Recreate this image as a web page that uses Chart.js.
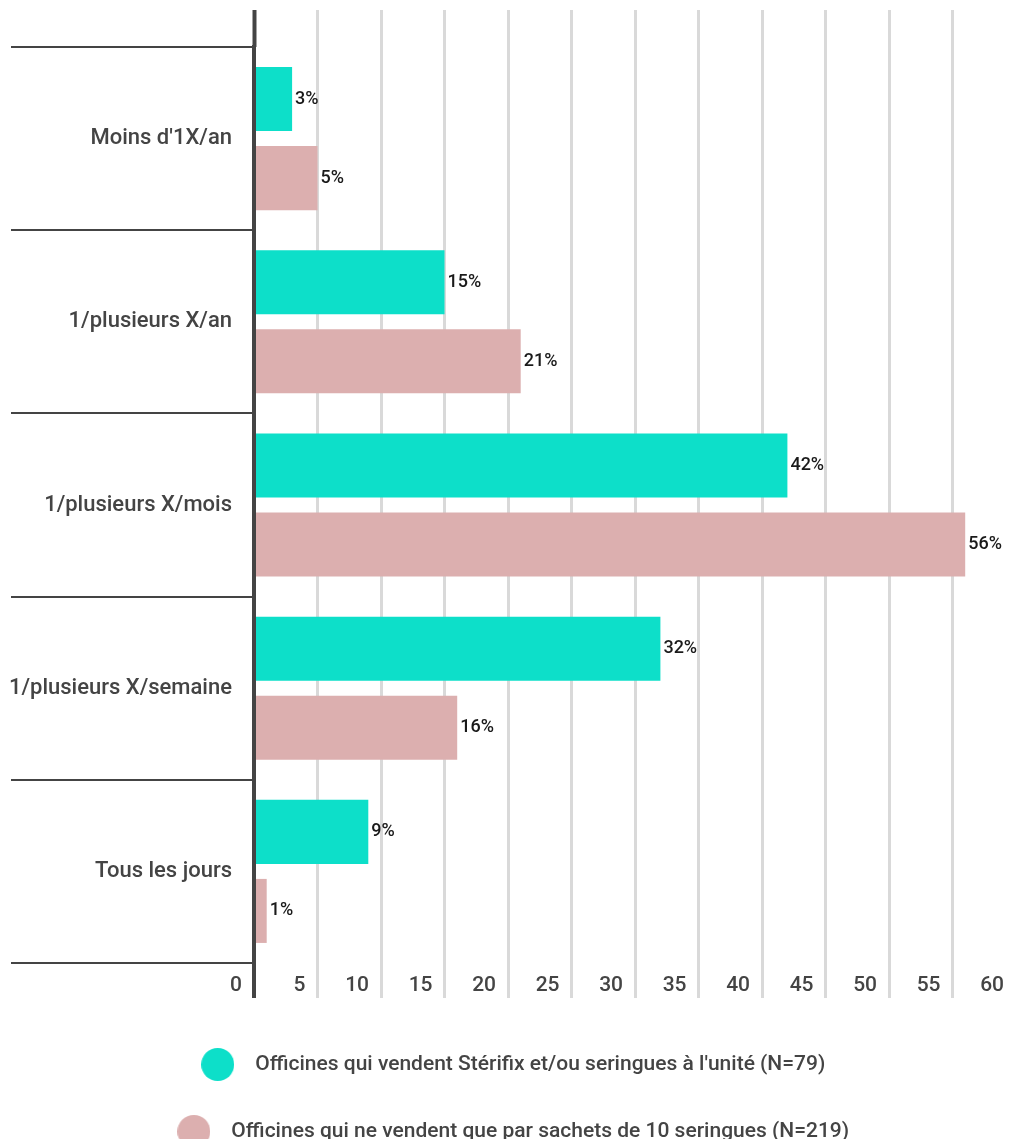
<!DOCTYPE html>
<html lang="fr">
<head>
<meta charset="utf-8">
<title>Fréquence de vente</title>
<script src="https://cdn.jsdelivr.net/npm/chart.js@4/dist/chart.umd.min.js"></script>
<style>
  html, body { margin: 0; padding: 0; background: #fff; overflow: hidden; }
  #wrap { width: 1020px; height: 1152px; }
</style>
</head>
<body>
<div id="wrap"><canvas id="freqChart" width="1020" height="1152"></canvas></div>
<script>
// fréquences de vente, en % des officines
const categories = ["Moins d'1X/an", '1/plusieurs X/an', '1/plusieurs X/mois', '1/plusieurs X/semaine', 'Tous les jours'];
const serieUnite = [3, 15, 42, 32, 9];
const serieSachets = [5, 21, 56, 16, 1];
const nomUnite = "Officines qui vendent Stérifix et/ou seringues à l'unité (N=79)";
const nomSachets = 'Officines qui ne vendent que par sachets de 10 seringues (N=219)';

const TURQUOISE = '#0ddfc9';
const ROSE = '#dcafaf';
const GRIS = '#d9d9d9';
const FONCE = '#444444';

Chart.defaults.font.family = 'Roboto, "Noto Sans", sans-serif';

// pastilles rondes de la légende
function pastille(couleur) {
    const c = document.createElement('canvas');
    c.width = 33; c.height = 33;
    const g = c.getContext('2d');
    g.fillStyle = couleur;
    g.beginPath();
    g.arc(16.5, 16.5, 16.5, 0, Math.PI * 2);
    g.fill();
    return c;
}
const pastilles = [pastille(TURQUOISE), pastille(ROSE)];

// pourcentage écrit au bout de chaque barre
const etiquettes = {
    id: 'etiquettes',
    afterDatasetsDraw(chart) {
        const ctx = chart.ctx;
        ctx.save();
        ctx.font = '500 18px Roboto';
        ctx.fillStyle = '#1a1a1a';
        ctx.textBaseline = 'middle';
        chart.data.datasets.forEach((ds, di) => {
            chart.getDatasetMeta(di).data.forEach((bar, i) => {
                ctx.fillText(ds.data[i] + '%', bar.x + 3, bar.y);
            });
        });
        ctx.restore();
    }
};

const couleurGrille = c => (c.tick && c.tick.value === 0 ? FONCE : GRIS);
const largeurGrille = c => (c.tick && c.tick.value === 0 ? 4 : 3);

const config = {
    type: 'bar',
    data: {
        labels: categories,
        datasets: [{
            label: nomUnite,
            data: serieUnite,
            backgroundColor: TURQUOISE,
            categoryPercentage: 0.863,
            barPercentage: 0.81
        }, {
            label: nomSachets,
            data: serieSachets,
            backgroundColor: ROSE,
            categoryPercentage: 0.863,
            barPercentage: 0.81
        }]
    },
    options: {
        indexAxis: 'y',
        responsive: false,
        animation: false,
        devicePixelRatio: 1,
        layout: { padding: { top: 10, right: 4, left: 0, bottom: 0 } },
        scales: {
            x: {
                min: 0,
                max: 60,
                border: { display: false },
                grid: {
                    color: couleurGrille,
                    lineWidth: largeurGrille,
                    tickColor: couleurGrille,
                    tickWidth: largeurGrille,
                    tickLength: 35
                },
                ticks: {
                    stepSize: 5,
                    align: 'end',
                    labelOffset: -12,
                    padding: -25,
                    color: FONCE,
                    font: { size: 21, weight: '500' }
                },
                afterFit(scale) { scale.height = 45; }
            },
            x2: {
                axis: 'x',
                position: 'top',
                min: 0,
                max: 60,
                border: { display: false },
                grid: {
                    drawOnChartArea: false,
                    tickColor: couleurGrille,
                    tickWidth: largeurGrille,
                    tickLength: 37
                },
                ticks: { stepSize: 5, display: false }
            },
            y: {
                z: 1,
                border: { display: true, color: FONCE, width: 4 },
                grid: {
                    offset: true,
                    drawOnChartArea: false,
                    color: FONCE,
                    lineWidth: 2,
                    tickLength: 243
                },
                ticks: {
                    padding: -221,
                    color: FONCE,
                    font: { size: 22, weight: '500' }
                },
                afterFit(scale) { scale.width = 254; }
            }
        },
        plugins: {
            legend: {
                position: 'bottom',
                labels: {
                    usePointStyle: true,
                    pointStyleWidth: 54,
                    padding: 46,
                    color: FONCE,
                    font: { size: 21, weight: '500' },
                    generateLabels(chart) {
                        const items = Chart.defaults.plugins.legend.labels.generateLabels(chart);
                        items.forEach((it, i) => { it.pointStyle = pastilles[i]; });
                        return items;
                    }
                }
            },
            tooltip: { enabled: false }
        }
    },
    plugins: [etiquettes]
};

new Chart(document.getElementById('freqChart'), config);
</script>
</body>
</html>
